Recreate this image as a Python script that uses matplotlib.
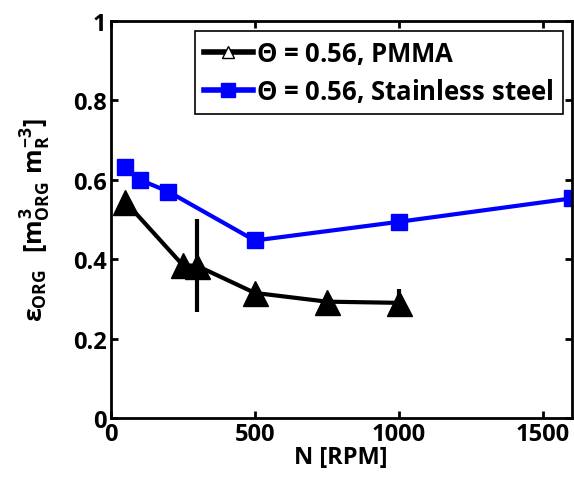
import matplotlib
matplotlib.use("Agg")
import matplotlib.pyplot as plt
from matplotlib.lines import Line2D

plt.rcParams['font.family'] = ['Open Sans', 'DejaVu Sans']
plt.rcParams['font.weight'] = 'bold'
plt.rcParams['mathtext.fontset'] = 'custom'
plt.rcParams['mathtext.rm'] = 'Open Sans:bold'
plt.rcParams['mathtext.it'] = 'Open Sans:bold'
plt.rcParams['mathtext.bf'] = 'Open Sans:bold'
plt.rcParams['mathtext.fallback'] = 'stixsans'

# PMMA
n_pmma = [50, 250, 300, 500, 750, 1000]
eps_pmma = [0.545, 0.385, 0.383, 0.315, 0.293, 0.29]
err_pmma = [0, 0, 0.117, 0, 0, 0.035]

# stainless steel
n_ss = [50, 100, 200, 500, 1000, 1600]
eps_ss = [0.633, 0.6, 0.57, 0.447, 0.494, 0.553]

labels = [r'$\Theta$ = 0.56, PMMA', r'$\Theta$ = 0.56, Stainless steel']

fig = plt.figure(figsize=(5.74, 4.85), dpi=100)
ax = fig.add_axes([0.193, 0.136, 0.803, 0.819])

ax.errorbar(n_pmma, eps_pmma, yerr=err_pmma, color='black', lw=3, elinewidth=3,
            capsize=0, marker='^', markersize=18, markerfacecolor='black',
            zorder=3)
ax.plot(n_ss, eps_ss, color='#0000ff', lw=3, marker='s', markersize=12,
        markerfacecolor='#0000ff', markeredgecolor='#0000ff', zorder=2)

ax.set_xlim(0, 1600)
ax.set_ylim(0, 1)
ax.set_xticks([0, 500, 1000, 1500])
ax.set_yticks([0, 0.2, 0.4, 0.6, 0.8, 1])
ax.set_yticklabels(['0', '0.2', '0.4', '0.6', '0.8', '1'])
ax.tick_params(direction='in', top=True, right=True, width=2, length=5,
               labelsize=17, pad=3)
for s in ax.spines.values():
    s.set_linewidth(2)

ax.set_xlabel('N [RPM]', fontsize=17, fontweight='bold', labelpad=-1)
ax.set_ylabel(r'$\varepsilon_{ORG}\ \ [m^{3}_{ORG}\ m^{-3}_{R}]$', fontsize=18, labelpad=14)

# legend handles drawn like the original (small hollow triangle)
h_pmma = Line2D([], [], color='black', lw=4, marker='^', markersize=8,
                markerfacecolor='white', markeredgecolor='black', markeredgewidth=1)
h_ss = Line2D([], [], color='#0000ff', lw=4, marker='s', markersize=10,
              markerfacecolor='#0000ff', markeredgecolor='#0000ff')
leg = ax.legend([h_pmma, h_ss], labels,
                loc='upper right', fontsize=18.5, frameon=True, fancybox=False,
                edgecolor='black', framealpha=1, handlelength=1.9, handletextpad=0.15,
                borderpad=0.35, labelspacing=0.4, borderaxespad=0,
                bbox_to_anchor=(0.981, 0.975))
leg.get_frame().set_linewidth(1.2)

fig.savefig('out.png', dpi=100)
